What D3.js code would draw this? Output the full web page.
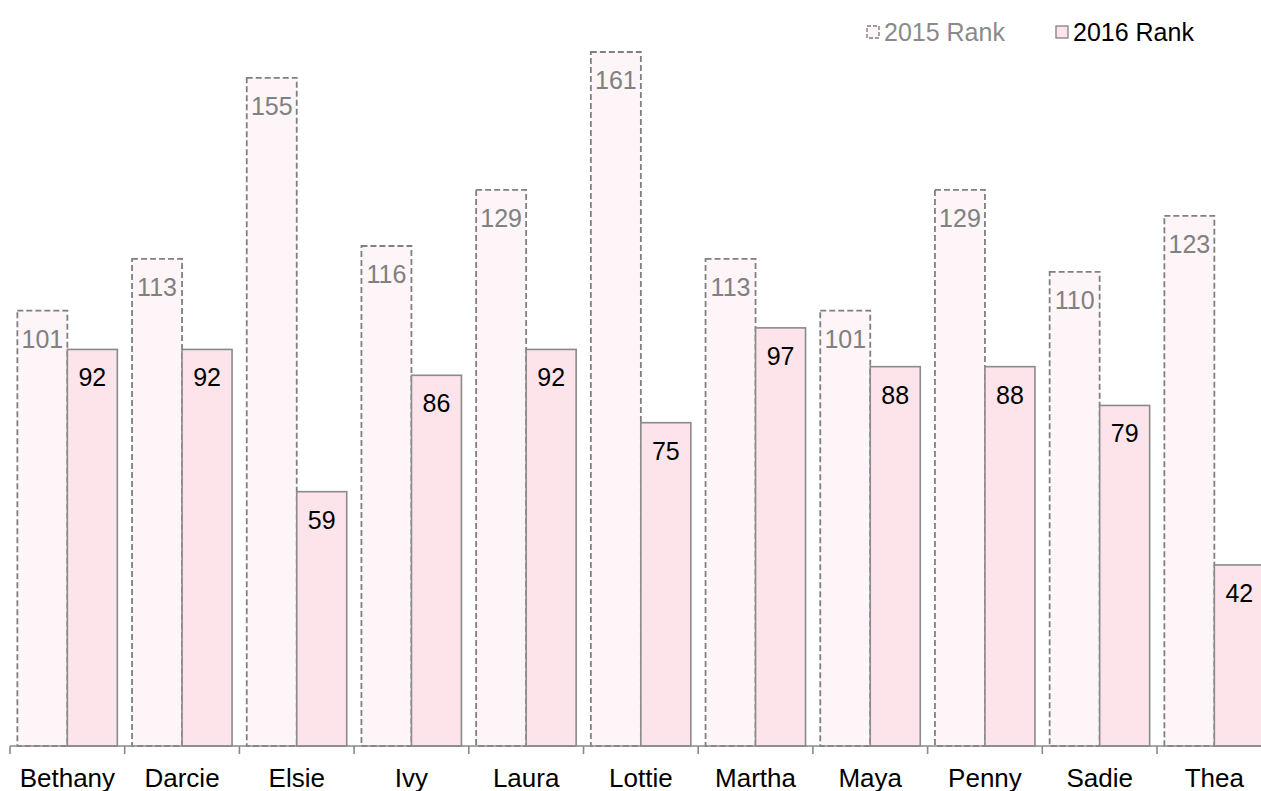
<!DOCTYPE html>
<html>
<head>
<meta charset="utf-8">
<script src="https://cdn.jsdelivr.net/npm/d3@7"></script>
<style>
  body { margin: 0; background: #fff; overflow: hidden; }
  text { font-family: "Liberation Sans", Arial, sans-serif; }
</style>
</head>
<body>
<div id="chart"></div>
<script>
const width = 1261;
const height = 791;
const margin = { top: 52, left: 10, bottom: 45 };

// data
const names = ['Bethany', 'Darcie', 'Elsie', 'Ivy', 'Laura', 'Lottie', 'Martha', 'Maya', 'Penny', 'Sadie', 'Thea'];
const rank2015 = [101, 113, 155, 116, 129, 161, 113, 101, 129, 110, 123];
const rank2016 = [92, 92, 59, 86, 92, 75, 97, 88, 88, 79, 42];
const seriesNames = ['2015 Rank', '2016 Rank'];

const rows = names.map((name, i) => ({ name, values: [rank2015[i], rank2016[i]] }));

const step = 114.7;
const baseline = height - margin.bottom; // 746

const svg = d3.select('#chart')
  .append('svg')
  .attr('width', width)
  .attr('height', height);

const xScale = d3.scaleBand()
  .domain(names)
  .range([margin.left, margin.left + step * names.length])
  .padding(0);

const xInner = d3.scaleBand()
  .domain(seriesNames)
  .range([0, xScale.bandwidth()])
  .paddingInner(0)
  .paddingOuter(0.147);

const yScale = d3.scaleLinear()
  .domain([0, 161])
  .range([baseline, margin.top]);

const styles = [
  { fill: '#fdf5f7', stroke: '#808080', dash: '6,3', width: 1.8, label: '#808080' },
  { fill: '#fce4ea', stroke: '#8a8a8a', dash: null, width: 1.6, label: '#000' }
];

// bars
const groups = svg.append('g')
  .selectAll('g')
  .data(rows)
  .join('g')
  .attr('transform', d => `translate(${xScale(d.name)},0)`);

seriesNames.forEach((s, si) => {
  groups.append('rect')
    .attr('x', xInner(s))
    .attr('y', d => yScale(d.values[si]))
    .attr('width', xInner.bandwidth())
    .attr('height', d => baseline - yScale(d.values[si]))
    .attr('fill', styles[si].fill)
    .attr('stroke', styles[si].stroke)
    .attr('stroke-width', styles[si].width)
    .attr('stroke-dasharray', styles[si].dash);

  groups.append('text')
    .attr('x', xInner(s) + xInner.bandwidth() / 2)
    .attr('y', d => yScale(d.values[si]) + 37)
    .attr('text-anchor', 'middle')
    .attr('font-size', 25)
    .attr('fill', styles[si].label)
    .text(d => d.values[si]);
});

// x axis
const xAxis = svg.append('g')
  .attr('transform', `translate(0,${baseline})`);

xAxis.append('line')
  .attr('x1', margin.left)
  .attr('x2', width)
  .attr('stroke', '#8a8a8a')
  .attr('stroke-width', 1.6);

xAxis.selectAll('.tick')
  .data(names)
  .join('line')
  .attr('class', 'tick')
  .attr('x1', d => xScale(d))
  .attr('x2', d => xScale(d))
  .attr('y1', 0)
  .attr('y2', 8)
  .attr('stroke', '#8a8a8a')
  .attr('stroke-width', 1.6);

xAxis.selectAll('.label')
  .data(names)
  .join('text')
  .attr('class', 'label')
  .attr('x', d => xScale(d) + xScale.bandwidth() / 2)
  .attr('y', 41)
  .attr('text-anchor', 'middle')
  .attr('font-size', 26)
  .attr('fill', '#000')
  .text(d => d);

// legend
const legendX = [867, 1056];
const legend = svg.append('g');
seriesNames.forEach((s, si) => {
  legend.append('rect')
    .attr('x', legendX[si])
    .attr('y', 26)
    .attr('width', 12)
    .attr('height', 12)
    .attr('fill', styles[si].fill)
    .attr('stroke', styles[si].stroke)
    .attr('stroke-width', 1.4)
    .attr('stroke-dasharray', si === 0 ? '4,2' : null);
  legend.append('text')
    .attr('x', legendX[si] + 17)
    .attr('y', 41)
    .attr('font-size', 25)
    .attr('fill', si === 0 ? '#8a8a8a' : '#000')
    .text(s);
});
</script>
</body>
</html>
